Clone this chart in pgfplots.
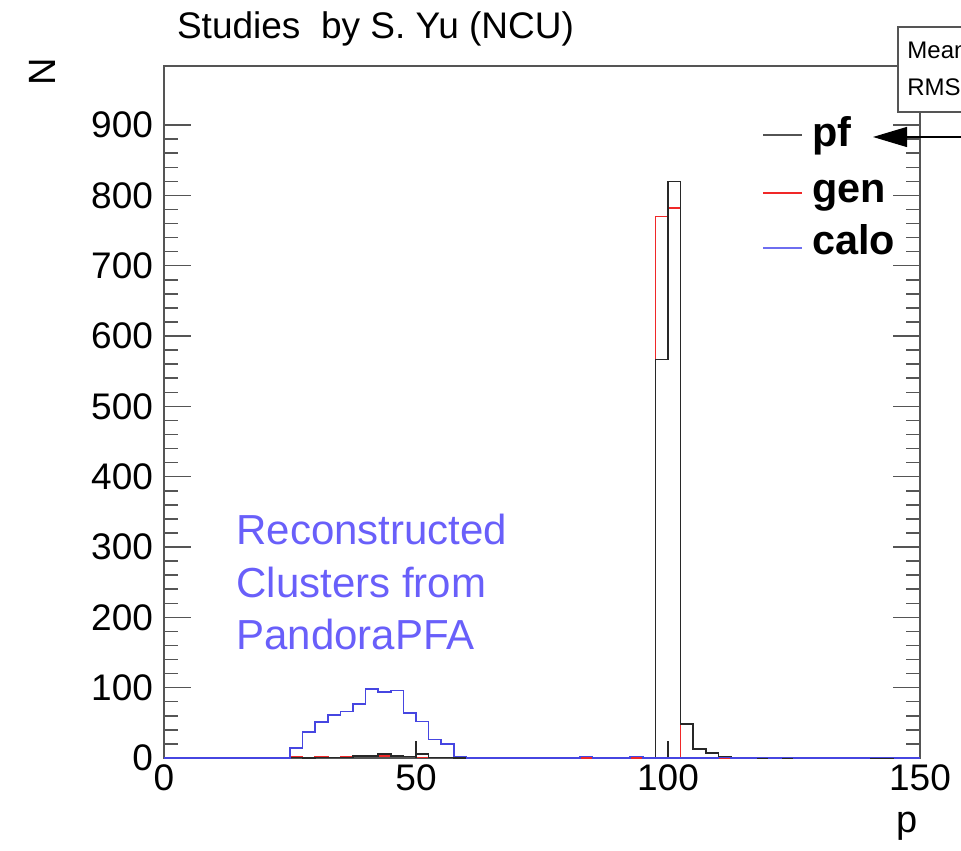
\documentclass[border=0pt]{standalone}
\usepackage{fontspec}
\setmainfont{Liberation Sans}
\usepackage{pgfplots}
\pgfplotsset{compat=1.18}
\usetikzlibrary{arrows.meta}
\definecolor{pfblack}{RGB}{40,40,40}
\definecolor{genred}{RGB}{240,40,40}
\definecolor{caloblue}{RGB}{70,70,225}
\definecolor{legblue}{RGB}{110,110,240}
\definecolor{notecol}{RGB}{105,95,250}
\definecolor{framegray}{RGB}{85,85,85}

\begin{document}
\begin{tikzpicture}
\begin{axis}[
  scale only axis, width=378pt, height=346pt,
  xmin=0, xmax=150, ymin=0, ymax=984,
  xtick={0,50,100,150},
  ytick={0,100,...,900}, minor y tick num=4,
  tick align=inside,
  major tick length=13.5pt, minor tick length=7pt,
  axis line style={framegray, line width=0.75pt},
  tick style={framegray, line width=0.75pt},
  xtick style={draw=none},
  tick label style={font=\fontsize{18.5}{22}\selectfont},
  /pgf/number format/assume math mode=true,
  yticklabel style={xshift=-2pt},
]
% gen
\addplot[genred, line width=0.75pt, const plot mark left] coordinates {
  (0,0) (25,2) (27.5,1) (30,2) (32.5,1) (35,2) (40,3) (45,2) (50,1) (60,0)
  (97.5,770) (100,782) (102.5,0) (150,0)};
% pf
\addplot[pfblack, line width=0.75pt, const plot mark left] coordinates {
  (0,0) (25,1) (27.5,0) (30,1) (37.5,3) (42.5,6) (45,3) (47.5,2) (50,6)
  (52.5,1) (57.5,0) (82.5,2) (85,0) (92.5,2) (95,0) (97.5,567) (100,820)
  (102.5,48) (105,13) (107.5,7) (110,2) (112.5,0) (150,0)};
\addplot[pfblack, line width=0.75pt] coordinates {(50,0) (50,24)};
\addplot[pfblack, line width=0.75pt] coordinates {(100,0) (100,24)};
% calo
\addplot[caloblue, line width=0.75pt, const plot mark left] coordinates {
  (0,0) (25,14) (27.5,37) (30,51) (32.5,61) (35,66) (37.5,77) (40,98)
  (42.5,94) (45,96) (47.5,64) (50,52) (52.5,26) (55,20) (57.5,2) (60,0)
  (82.5,2) (85,0) (92.5,2) (95,0) (110,1) (112.5,0) (117.5,1) (120,0)
  (122.5,1) (125,0) (140,1) (145,0) (150,0)};
\end{axis}
% title and axis titles
\node[anchor=base west, font=\fontsize{18.5}{22}\selectfont] at (3pt,359.5pt) {Studies\ \ by S. Yu (NCU)};
\node[anchor=base west, rotate=90, inner sep=0pt, font=\fontsize{19}{22}\selectfont] at (-54pt,336pt) {N};
\node[anchor=base east, inner sep=0pt, font=\fontsize{19}{22}\selectfont] at (377pt,-37pt) {p};
% annotation
\begin{scope}[every node/.style={anchor=base west, inner sep=0pt, text=notecol, font=\fontsize{21}{25}\selectfont}]
\node at (36pt,106.5pt) {Reconstructed};
\node at (36pt,80.5pt) {Clusters from};
\node at (36pt,54.5pt) {PandoraPFA};
\end{scope}
% legend
\draw[pfblack!80, line width=0.6pt] (299.5pt,311.5pt) -- (319pt,311.5pt);
\draw[genred, line width=0.6pt] (299.5pt,282.5pt) -- (319pt,282.5pt);
\draw[legblue, line width=0.6pt] (299.5pt,255pt) -- (319pt,255pt);
\begin{scope}[every node/.style={anchor=base west, inner sep=0pt, font=\fontsize{20.7}{24}\selectfont\bfseries}]
\node at (324pt,305.5pt) {pf};
\node at (324pt,277.5pt) {gen};
\node at (324pt,251.5pt) {calo};
\end{scope}
% stat box
\draw[framegray, fill=white, line width=0.6pt] (367pt,323pt) rectangle (440pt,365.5pt);
\node[anchor=west, inner sep=0pt, font=\fontsize{12}{14}\selectfont] at (371.5pt,354pt) {Mean};
\node[anchor=west, inner sep=0pt, font=\fontsize{12}{14}\selectfont] at (371.5pt,335.5pt) {RMS};
% arrow
\draw[-{Triangle[length=17pt,width=10pt]}, line width=0.6pt] (430pt,310.5pt) -- (354.5pt,310.5pt);
\pgfresetboundingbox
\path[use as bounding box] (-82pt,-46pt) rectangle (398.5pt,379pt);
\end{tikzpicture}
\end{document}
